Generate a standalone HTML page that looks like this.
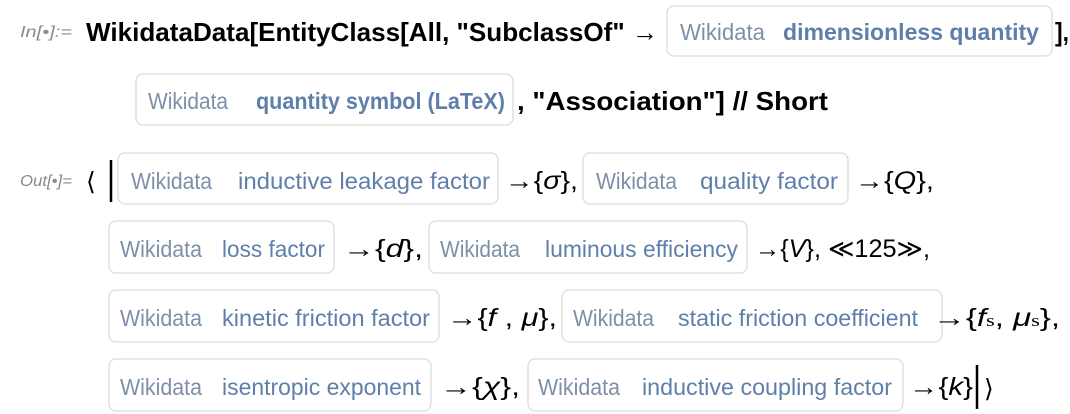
<!DOCTYPE html>
<html><head><meta charset="utf-8"><style>
html,body{margin:0;padding:0;background:#fff;width:1070px;height:414px;overflow:hidden}
svg text{font-family:"Liberation Sans",sans-serif}
.b{font-weight:bold;fill:#000;font-size:26px}
.n{fill:#000;font-size:25px}
.w{fill:#7d90a8;font-size:23px}
.e{fill:#5f7fab;font-size:23px}
.eb{fill:#5f7fab;font-size:23px;font-weight:bold}
.lab{fill:#8a8a8a;font-size:16px;font-style:italic}
.i{font-style:italic}
rect{fill:#fff;stroke:#dcdcdc;stroke-width:1.3}
</style></head><body>
<svg width="1070" height="414" xmlns="http://www.w3.org/2000/svg">
<!-- line 1 -->
<text class="lab" x="20" y="37" textLength="52" lengthAdjust="spacingAndGlyphs">In[•]:=</text>
<text class="b" x="86" y="41" textLength="572" lengthAdjust="spacingAndGlyphs">WikidataData[EntityClass[All, "SubclassOf" →</text>
<rect x="667" y="6" width="385" height="50" rx="7"/>
<text class="w" x="680" y="40" textLength="85" lengthAdjust="spacingAndGlyphs">Wikidata</text>
<text class="eb" x="783" y="40" textLength="256" lengthAdjust="spacingAndGlyphs">dimensionless quantity</text>
<text class="b" x="1055" y="41" textLength="14" lengthAdjust="spacingAndGlyphs">],</text>
<!-- line 2 -->
<rect x="136" y="74" width="377" height="51" rx="7"/>
<text class="w" x="148" y="109" textLength="80" lengthAdjust="spacingAndGlyphs">Wikidata</text>
<text class="eb" x="256" y="109" textLength="249" lengthAdjust="spacingAndGlyphs">quantity symbol (LaTeX)</text>
<text class="b" x="517" y="110" textLength="311" lengthAdjust="spacingAndGlyphs">, "Association"] // Short</text>
<!-- line 3 -->
<text class="lab" x="20" y="186" textLength="52" lengthAdjust="spacingAndGlyphs">Out[•]=</text>
<text class="n" x="86" y="190" font-size="28">⟨</text>
<line x1="111" y1="160" x2="111" y2="202" stroke="#000" stroke-width="2.5"/>
<rect x="118" y="153" width="380" height="51" rx="7"/>
<text class="w" x="131" y="189" textLength="81" lengthAdjust="spacingAndGlyphs">Wikidata</text>
<text class="e" x="238" y="189" textLength="252" lengthAdjust="spacingAndGlyphs">inductive leakage factor</text>
<text class="n" x="505" y="189" textLength="73" lengthAdjust="spacingAndGlyphs">→{<tspan class="i">σ</tspan>},</text>
<rect x="583" y="153" width="265" height="51" rx="7"/>
<text class="w" x="596" y="189" textLength="81" lengthAdjust="spacingAndGlyphs">Wikidata</text>
<text class="e" x="700" y="189" textLength="138" lengthAdjust="spacingAndGlyphs">quality factor</text>
<text class="n" x="855" y="189" textLength="79" lengthAdjust="spacingAndGlyphs">→{<tspan class="i">Q</tspan>},</text>
<!-- line 4 -->
<rect x="109" y="221" width="225" height="52" rx="7"/>
<text class="w" x="120" y="257" textLength="82" lengthAdjust="spacingAndGlyphs">Wikidata</text>
<text class="e" x="222" y="257" textLength="103" lengthAdjust="spacingAndGlyphs">loss factor</text>
<text class="n" x="343" y="257" textLength="80" lengthAdjust="spacingAndGlyphs">→{<tspan class="i">d</tspan>},</text>
<rect x="429" y="221" width="318" height="52" rx="7"/>
<text class="w" x="440" y="257" textLength="80" lengthAdjust="spacingAndGlyphs">Wikidata</text>
<text class="e" x="545" y="257" textLength="193" lengthAdjust="spacingAndGlyphs">luminous efficiency</text>
<text class="n" x="755" y="257" textLength="175" lengthAdjust="spacingAndGlyphs">→{<tspan class="i">V</tspan>}, ≪125≫,</text>
<!-- line 5 -->
<rect x="109" y="290" width="330" height="52" rx="7"/>
<text class="w" x="120" y="326" textLength="82" lengthAdjust="spacingAndGlyphs">Wikidata</text>
<text class="e" x="222" y="326" textLength="208" lengthAdjust="spacingAndGlyphs">kinetic friction factor</text>
<text class="n" x="447" y="326" textLength="110" lengthAdjust="spacingAndGlyphs">→{<tspan class="i">f</tspan> , <tspan class="i">μ</tspan>},</text>
<rect x="562" y="290" width="380" height="52" rx="7"/>
<text class="w" x="573" y="326" textLength="81" lengthAdjust="spacingAndGlyphs">Wikidata</text>
<text class="e" x="678" y="326" textLength="240" lengthAdjust="spacingAndGlyphs">static friction coefficient</text>
<text class="n" x="933" y="326" textLength="127" lengthAdjust="spacingAndGlyphs">→{<tspan class="i">f</tspan><tspan font-size="17" font-family="Liberation Serif">s</tspan>, <tspan class="i">μ</tspan><tspan font-size="17" font-family="Liberation Serif">s</tspan>},</text>
<!-- line 6 -->
<rect x="109" y="359" width="322" height="52" rx="7"/>
<text class="w" x="120" y="395" textLength="82" lengthAdjust="spacingAndGlyphs">Wikidata</text>
<text class="e" x="222" y="395" textLength="199" lengthAdjust="spacingAndGlyphs">isentropic exponent</text>
<text class="n" x="440" y="395" textLength="80" lengthAdjust="spacingAndGlyphs">→{<tspan class="i">χ</tspan>},</text>
<rect x="528" y="359" width="375" height="52" rx="7"/>
<text class="w" x="538" y="395" textLength="82" lengthAdjust="spacingAndGlyphs">Wikidata</text>
<text class="e" x="642" y="395" textLength="250" lengthAdjust="spacingAndGlyphs">inductive coupling factor</text>
<text class="n" x="909" y="395" textLength="64" lengthAdjust="spacingAndGlyphs">→{<tspan class="i">k</tspan>}</text>
<line x1="977" y1="365" x2="977" y2="409" stroke="#000" stroke-width="2.5"/>
<text class="n" x="984" y="397" font-size="28">⟩</text>
</svg>
</body></html>
